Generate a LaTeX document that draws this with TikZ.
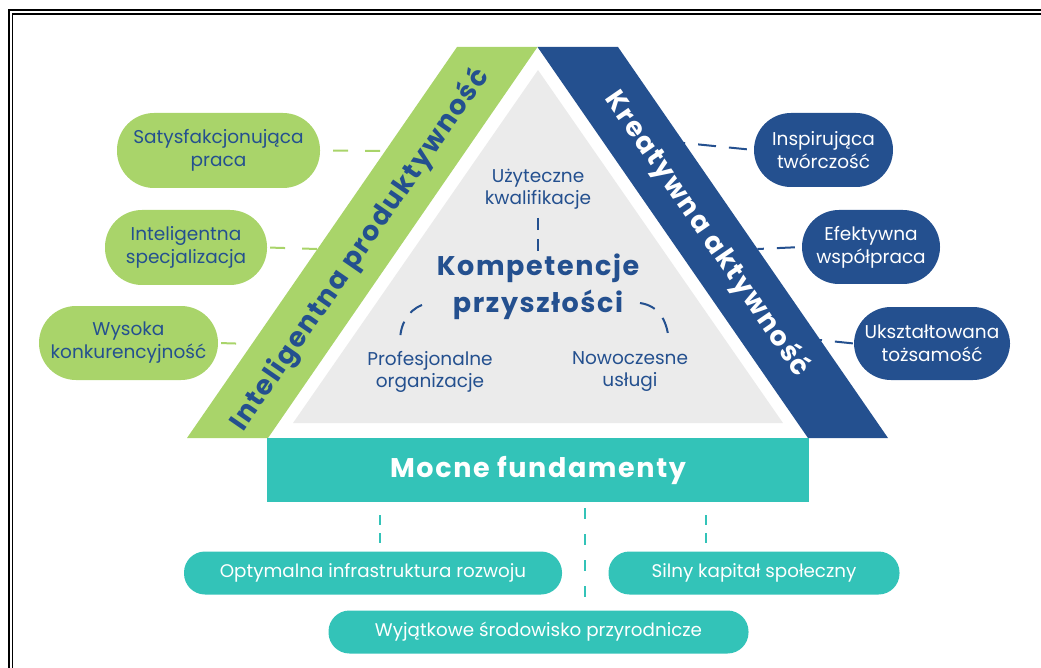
\documentclass[tikz,border=0pt]{standalone}
\usepackage{fontspec}
\setmainfont{Poppins}
\newfontfamily\dispfont[LetterSpace=6]{Poppins}
\definecolor{pgreen}{HTML}{A9D46A}
\definecolor{pblue}{HTML}{24508F}
\definecolor{pteal}{HTML}{33C3B8}
\definecolor{pgray}{HTML}{EBEBEB}
\begin{document}
\begin{tikzpicture}[x=1pt,y=-1pt,
  pill/.style={rounded corners=#1, inner sep=0pt, align=center,
    font=\fontsize{18.5}{23}\selectfont},
  gpill/.style={pill=37pt, fill=pgreen, text=pblue},
  bpill/.style={pill=37pt, fill=pblue, text=white},
  tpill/.style={pill=21pt, fill=pteal, text=white, font=\fontsize{18.3}{23}\selectfont},
  inner/.style={align=center, text=pblue, font=\fontsize{18.5}{22}\selectfont},
  disp/.style={font=\dispfont\bfseries\fontsize{27}{37}\selectfont},
  gdash/.style={draw=pgreen, line width=2pt, dash pattern=on 15pt off 17pt},
  bdash/.style={draw=pblue, line width=2pt, dash pattern=on 18pt off 13pt},
  tdash/.style={draw=pteal, line width=2pt},
  idash/.style={draw=pblue, line width=2pt, dash pattern=on 12pt off 9pt},
]
\useasboundingbox (0,0) rectangle (1041,668);
% frame
\draw[line width=2pt] (8.5,668) -- (8.5,10) -- (1041,10);
\draw[line width=1.3pt] (12.3,668) -- (12.3,14) -- (1041,14);
% bands
\fill[pgreen] (457,47) -- (537.5,47) -- (268,438) -- (187,438) -- cycle;
\fill[pblue] (537.5,47) -- (618,47) -- (888,438) -- (808,438) -- cycle;
\fill[pgray] (538,70) -- (783,423) -- (293,423) -- cycle;
% band edge coordinates
\coordinate (ge1) at (385,151);
\coordinate (ge2) at (317.5,249);
\coordinate (ge3) at (252,344);
\coordinate (be1) at (684,143);
\coordinate (be2) at (757.5,249);
\coordinate (be3) at (820,340);
% band texts
\node[disp, text=pblue, rotate=55.4] (prod) at (360,250) {Inteligentna produktywność};
\node[disp, text=white, rotate=-55.4] (kreat) at (707,234) {Kreatywna aktywność};
% foundation
\node[fill=pteal, minimum width=542pt, minimum height=64pt, inner sep=0pt,
  disp, text=white] (found) at (538,470) {Mocne fundamenty};
% left pills
\node[gpill, minimum width=203pt, minimum height=75pt] (g1) at (218.5,150.5) {Satysfakcjonująca\\praca};
\node[gpill, minimum width=162pt, minimum height=75pt] (g2) at (186,247.5) {Inteligentna\\specjalizacja};
\node[gpill, minimum width=179pt, minimum height=74pt] (g3) at (128.5,343) {Wysoka\\konkurencyjność};
% right pills
\node[bpill, minimum width=139pt, minimum height=74pt] (b1) at (823.5,150) {Inspirująca\\twórczość};
\node[bpill, minimum width=138pt, minimum height=74pt] (b2) at (871,247) {Efektywna\\współpraca};
\node[bpill, minimum width=156pt, minimum height=73pt] (b3) at (932,343.5) {Ukształtowana\\tożsamość};
% bottom pills
\node[tpill, minimum width=378pt, minimum height=43pt] (t1) at (373,573) {Optymalna infrastruktura rozwoju};
\node[tpill, minimum width=291pt, minimum height=43pt] (t2) at (754,573) {Silny kapitał społeczny};
\node[tpill, minimum width=420pt, minimum height=43pt] (t3) at (538.5,632) {Wyjątkowe środowisko przyrodnicze};
% inner texts
\node[inner] (uz) at (538,189) {Użyteczne\\kwalifikacje};
\node[inner, disp, text=pblue] (komp) at (538,287) {Kompetencje\\przyszłości};
\node[inner] (prof) at (430,372) {Profesjonalne\\organizacje};
\node[inner] (now) at (630,372) {Nowoczesne\\usługi};
% connectors left
\draw[gdash, dash phase=19pt] (g1.east) -- (ge1);
\draw[gdash, dash phase=29pt] (g2.east) -- (ge2);
\draw[gdash, dash phase=29pt] (g3.east) -- (ge3);
% connectors right
\draw[bdash, dash phase=24pt] (b1.west) -- (be1);
\draw[bdash, dash phase=24pt] (b2.west) -- (be2);
\draw[bdash, dash phase=30pt] (b3.west) -- (be3);
% inner connectors
\coordinate (ua) at (538,218);
\coordinate (ub) at (538,252);
\draw[idash] (ua) -- (ub);
\coordinate (la1) at (422,305);
\coordinate (la2) at (400,342);
\coordinate (ra1) at (640,303);
\coordinate (ra2) at (669,344);
\draw[idash, dash pattern=on 14pt off 11pt] (la1) .. controls (407,311) and (400,325) .. (la2);
\draw[idash, dash pattern=on 16pt off 12pt] (ra1) .. controls (660,306) and (668,322) .. (ra2);
% bottom connectors
\coordinate (d1a) at (380,515);
\coordinate (d1b) at (380,543);
\coordinate (d2a) at (585,508);
\coordinate (d2b) at (585,600);
\coordinate (d3a) at (706,515);
\coordinate (d3b) at (706,543);
\draw[tdash, dash pattern=on 10pt off 8pt] (d1a) -- (d1b);
\draw[tdash, dash pattern=on 11pt off 15pt] (d2a) -- (d2b);
\draw[tdash, dash pattern=on 10pt off 8pt] (d3a) -- (d3b);
\end{tikzpicture}
\end{document}
